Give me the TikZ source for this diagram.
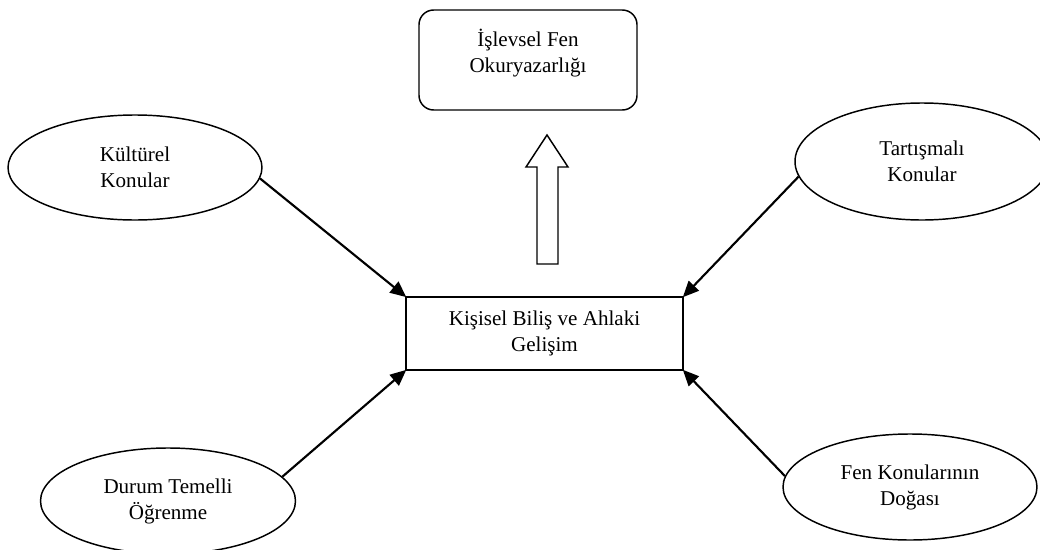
\documentclass[tikz,border=0pt]{standalone}
\usepackage{fontspec}
\setmainfont{Liberation Serif}
\usetikzlibrary{shapes.geometric,arrows.meta}

\tikzset{every picture/.style={line width=1.1pt}}
\tikzset{
  konu/.style={draw, ellipse, inner sep=0pt, align=center, font=\fontsize{15.8}{19.5}\selectfont},
  kutu/.style={draw, rectangle, inner sep=0pt, align=center, font=\fontsize{15.8}{19.5}\selectfont},
  etki/.style={line width=1.6pt, -{Triangle[length=12pt,width=10.5pt]}, shorten >=-1pt},
}

\begin{document}
\begin{tikzpicture}[x=0.75pt,y=0.75pt,yscale=-1,xscale=1]
\useasboundingbox (0,0) rectangle (1040,550);

%Rounded Rect
\node [kutu, rounded corners=11pt, minimum width=163.5pt, minimum height=75pt,
  label={[align=center, font=\fontsize{15.8}{19.5}\selectfont, yshift=5.25pt]center:İşlevsel Fen\\Okuryazarlığı}] (islevsel) at (528,60) {};
%Shape: Rectangle
\node [kutu, minimum width=207.75pt, minimum height=54.75pt] (kisisel) at (544.5,333.5) {Kişisel Biliş ve Ahlaki\\Gelişim};

%Shape: Ellipse
\node [konu, minimum width=190.5pt, minimum height=78.75pt] (kultur) at (135,167.5) {Kültürel\\Konular};
%Shape: Ellipse
\node [konu, minimum width=190.5pt, minimum height=87.75pt] (tartisma) at (922,161.5) {Tartışmalı\\Konular};
%Shape: Ellipse
\node [konu, minimum width=191.25pt, minimum height=79.5pt] (durum) at (168,501) {Durum Temelli\\Öğrenme};
%Shape: Ellipse
\node [konu, minimum width=190.5pt, minimum height=79.5pt] (doga) at (910,487) {Fen Konularının\\Doğası};

%Up Arrow
\draw (537,264) -- (537,167) -- (526,167) -- (547,135) -- (568,167) -- (558,167) -- (558,264) -- cycle ;

%Straight Lines
\draw [etki] (kultur.-5) -- (kisisel.north west) ;
%Straight Lines
\draw [etki] (tartisma.187) -- (kisisel.north east) ;
%Straight Lines
\draw [etki] (durum.12) -- (kisisel.south west) ;
%Straight Lines
\draw [etki] (doga.175) -- (kisisel.south east) ;

\end{tikzpicture}
\end{document}
